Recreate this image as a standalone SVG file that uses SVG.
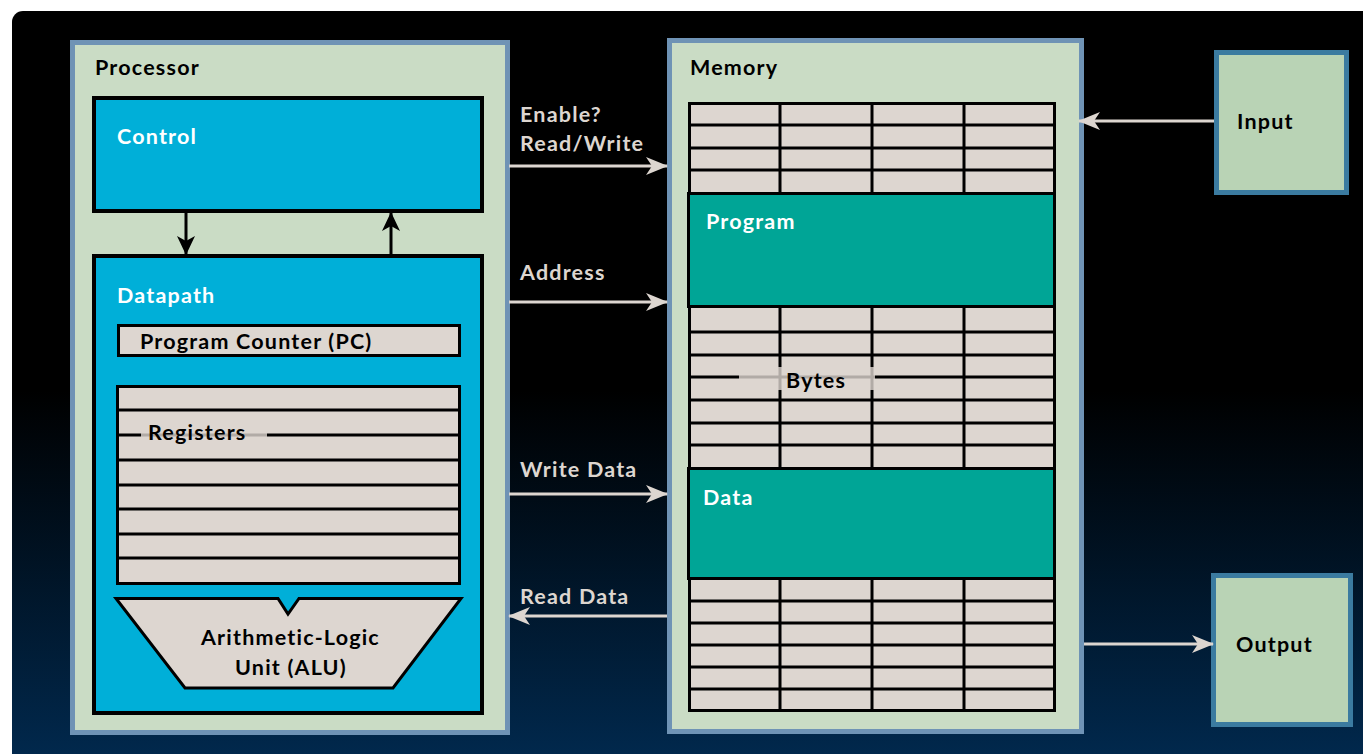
<svg xmlns="http://www.w3.org/2000/svg" width="1363" height="754" viewBox="0 0 1363 754">
<defs>
<linearGradient id="bg" x1="0" y1="0" x2="0" y2="1">
<stop offset="0" stop-color="#000000"/>
<stop offset="0.5" stop-color="#000000"/>
<stop offset="1" stop-color="#012a50"/>
</linearGradient>
<marker id="ga" viewBox="0 0 22 18" refX="21" refY="9" markerWidth="22" markerHeight="18" markerUnits="userSpaceOnUse" orient="auto">
<path d="M0,0 L22,9 L0,18 L6,9 Z" fill="#ddd6d0"/>
</marker>
<marker id="ba" viewBox="0 0 19 18" refX="18" refY="9" markerWidth="19" markerHeight="18" markerUnits="userSpaceOnUse" orient="auto">
<path d="M0,0 L19,9 L0,18 L5,9 Z" fill="#000"/>
</marker>
<style>
.t{font-family:Lato,"Open Sans","Liberation Sans",sans-serif;font-weight:bold;font-size:21.5px;letter-spacing:1.2px}
.dk{fill:#000}
.wh{fill:#fff}
.lt{fill:#ddd6d0}
.box{fill:#cadcc5;stroke:#6f93b5;stroke-width:5}
.io{fill:#b9d3b5;stroke:#3b7ba0;stroke-width:5}
.blue{fill:#00afd8;stroke:#000;stroke-width:4}
.cell{fill:#ddd6d0;stroke:#000;stroke-width:3}
.teal{fill:#00a596;stroke:#000;stroke-width:3}
.ln{stroke:#000;stroke-width:3}
.gl{stroke:#ddd6d0;stroke-width:3;fill:none}
.bl{stroke:#000;stroke-width:3;fill:none}
</style>
</defs>
<rect x="0" y="0" width="1363" height="754" fill="#fff"/>
<rect x="12" y="11" width="1370" height="760" rx="11" fill="url(#bg)"/>

<g id="processor">
<rect class="box" x="72.5" y="42.5" width="435" height="690"/>
<text class="t dk" x="95" y="75">Processor</text>
</g>
<g id="control">
<rect class="blue" x="94" y="98" width="388" height="113"/>
<text class="t wh" x="117" y="144" font-size="22">Control</text>
</g>
<g id="datapath">
<rect class="blue" x="94" y="256" width="388" height="457"/>
<text class="t wh" x="117" y="303" font-size="22">Datapath</text>
</g>
<g id="pc">
<rect class="cell" x="118.5" y="325.5" width="341" height="30"/>
<text class="t dk" x="140" y="349">Program Counter (PC)</text>
</g>
<g id="registers">
<rect class="cell" x="117.5" y="386.5" width="342" height="197"/>
<path class="ln" d="M118,410H459M118,435H459M118,460H459M118,485H459M118,509H459M118,534H459M118,558H459"/>
<rect x="141" y="424" width="126" height="22" fill="#ddd6d0" opacity="0.8"/>
<text class="t dk" x="148" y="440">Registers</text>
</g>
<g id="alu">
<path d="M116,598.5 L278,598.5 L288,614 L299,598.5 L461,598.5 L393,688 L185,688 Z" fill="#ddd6d0" stroke="#000" stroke-width="3" stroke-linejoin="miter"/>
<text class="t dk" x="201" y="645">Arithmetic-Logic</text>
<text class="t dk" x="235" y="675">Unit (ALU)</text>
</g>

<g id="memory">
<rect class="box" x="669.5" y="40.5" width="412" height="691"/>
<text class="t dk" x="690" y="75">Memory</text>
<rect class="cell" x="689.5" y="103.5" width="365" height="607"/>
<path class="ln" d="M689,125H1055M689,148H1055M689,170H1055M689,332H1055M689,355H1055M689,377H1055M689,400H1055M689,423H1055M689,445H1055M689,601H1055M689,623H1055M689,645H1055M689,667H1055M689,689H1055"/>
<path class="ln" d="M780,103V193M872,103V193M964,103V193M780,307V468M872,307V468M964,307V468M780,580V711M872,580V711M964,580V711"/>
<rect x="739" y="367" width="136" height="23" fill="#ddd6d0" opacity="0.8"/>
<text class="t dk" x="786" y="388">Bytes</text>
</g>
<g id="program">
<rect class="teal" x="688.5" y="193.5" width="366" height="113"/>
<text class="t wh" x="706" y="229">Program</text>
</g>
<g id="data">
<rect class="teal" x="688.5" y="468.5" width="366" height="110"/>
<text class="t wh" x="703" y="505">Data</text>
</g>
<g id="input">
<rect class="io" x="1216.5" y="52.5" width="130" height="140"/>
<text class="t dk" x="1237" y="129">Input</text>
</g>
<g id="output">
<rect class="io" x="1213.5" y="575.5" width="137" height="149"/>
<text class="t dk" x="1236" y="652">Output</text>
</g>

<g id="connectors">
<line class="bl" x1="186" y1="213" x2="186" y2="254" marker-end="url(#ba)"/>
<line class="bl" x1="391" y1="254" x2="391" y2="213" marker-end="url(#ba)"/>
<line class="gl" x1="509" y1="166" x2="667" y2="166" marker-end="url(#ga)"/>
<line class="gl" x1="509" y1="302" x2="667" y2="302" marker-end="url(#ga)"/>
<line class="gl" x1="509" y1="494" x2="667" y2="494" marker-end="url(#ga)"/>
<line class="gl" x1="667" y1="616" x2="509" y2="616" marker-end="url(#ga)"/>
<line class="gl" x1="1214" y1="121" x2="1079" y2="121" marker-end="url(#ga)"/>
<line class="gl" x1="1084" y1="644" x2="1213" y2="644" marker-end="url(#ga)"/>
<text class="t lt" x="520" y="122">Enable?</text>
<text class="t lt" x="520" y="151">Read/Write</text>
<text class="t lt" x="520" y="280">Address</text>
<text class="t lt" x="520" y="477">Write Data</text>
<text class="t lt" x="520" y="604">Read Data</text>
</g>
</svg>
